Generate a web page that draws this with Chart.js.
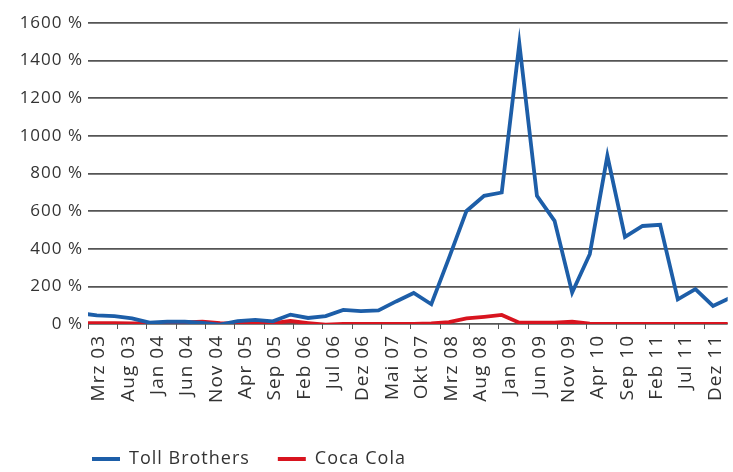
<!DOCTYPE html>
<html>
<head>
<meta charset="utf-8">
<title>Toll Brothers vs Coca Cola</title>
<script src="https://cdn.jsdelivr.net/npm/chart.js"></script>
<style>
  html, body { margin: 0; padding: 0; background: #fff; }
  #wrap { width: 733px; height: 472px; }
</style>
</head>
<body>
<div id="wrap"><canvas id="grafico"></canvas></div>
<script>
const monate = ['Jan', 'Feb', 'Mrz', 'Apr', 'Mai', 'Jun', 'Jul', 'Aug', 'Sep', 'Okt', 'Nov', 'Dez'];

// Quartalswerte (in %)
const quartale = [
  'Jan 03', 'Apr 03', 'Jul 03', 'Okt 03', 'Jan 04', 'Apr 04', 'Jul 04', 'Okt 04',
  'Jan 05', 'Apr 05', 'Jul 05', 'Okt 05', 'Jan 06', 'Apr 06', 'Jul 06', 'Okt 06',
  'Jan 07', 'Apr 07', 'Jul 07', 'Okt 07', 'Jan 08', 'Apr 08', 'Jul 08', 'Okt 08',
  'Jan 09', 'Apr 09', 'Jul 09', 'Okt 09', 'Jan 10', 'Apr 10', 'Jul 10', 'Okt 10',
  'Jan 11', 'Apr 11', 'Jul 11', 'Okt 11', 'Jan 12', 'Apr 12'
];
const tollBrothers = [
  58, 46, 42, 30, 7, 12, 12, 6,
  -3, 15, 22, 14, 50, 32, 42, 75,
  68, 72, 120, 165, 105, 350, 601, 681,
  699, 1490, 681, 548, 167, 371, 894, 463,
  521, 527, 131, 185, 96, 140
];
const cocaCola = [
  5, 5, 5, 3, 3, 3, 8, 12,
  5, 3, 5, 5, 16, 5, -4, 0,
  0, 0, 0, 0, 3, 10, 30, 38,
  48, 7, 7, 7, 12, 2, 0, 0,
  0, 0, 0, 0, 0, 0
];

// Achsenbeschriftung (alle 5 Monate)
const achsenLabels = [
  'Mrz 03', 'Aug 03', 'Jan 04', 'Jun 04', 'Nov 04', 'Apr 05', 'Sep 05', 'Feb 06',
  'Jul 06', 'Dez 06', 'Mai 07', 'Okt 07', 'Mrz 08', 'Aug 08', 'Jan 09', 'Jun 09',
  'Nov 09', 'Apr 10', 'Sep 10', 'Feb 11', 'Jul 11', 'Dez 11'
];
const yMin = 0;
const yMax = 1600;
const yStep = 200;

// Monate seit Mrz 03
function monatsIndex(label) {
  const [m, j] = label.split(' ');
  return (Number(j) - 3) * 12 + monate.indexOf(m) - 2;
}

const punkte = werte => quartale.map((q, i) => ({ x: monatsIndex(q) + 0.5, y: werte[i] }));

const schrift = { family: "'Open Sans', sans-serif", size: 18 };

// etwas Laufweite wie im Original
const sperrung = {
  id: 'sperrung',
  beforeLayout(chart) { chart.ctx.letterSpacing = '1px'; },
  beforeDraw(chart) { chart.ctx.letterSpacing = '1px'; }
};

const legendeVerschieben = {
  id: 'legendeVerschieben',
  afterLayout(chart) {
    chart.legend.left += 56;
    chart.legend.top += 6;
  }
};

new Chart(document.getElementById('grafico'), {
  type: 'line',
  data: {
    datasets: [{
      label: 'Toll Brothers',
      data: punkte(tollBrothers),
      borderColor: '#1d5ea8',
      backgroundColor: '#1d5ea8',
      borderWidth: 3.8,
      pointRadius: 0,
      tension: 0,
      clip: 0
    }, {
      label: 'Coca Cola',
      data: punkte(cocaCola),
      borderColor: '#d8141f',
      backgroundColor: '#d8141f',
      borderWidth: 3.8,
      pointRadius: 0,
      tension: 0,
      clip: 0
    }]
  },
  options: {
    responsive: true,
    maintainAspectRatio: false,
    animation: false,
    layout: { padding: { left: 8, top: 23, right: 0, bottom: 0 } },
    plugins: {
      tooltip: { enabled: false },
      legend: {
        position: 'bottom',
        align: 'start',
        labels: {
          color: '#333',
          font: schrift,
          boxWidth: 28,
          boxHeight: 4,
          padding: 28,
          generateLabels: chart =>
            Chart.defaults.plugins.legend.labels.generateLabels(chart).map(l => ({ ...l, lineWidth: 0 }))
        }
      }
    },
    scales: {
      x: {
        type: 'linear',
        min: 0,
        max: 109,
        afterBuildTicks: axis => {
          axis.ticks = achsenLabels.map(l => ({ value: monatsIndex(l) }));
        },
        afterFit: axis => { axis.height = 92; },
        ticks: {
          autoSkip: false,
          minRotation: 90,
          maxRotation: 90,
          labelOffset: 11,
          padding: 6,
          color: '#333',
          font: { family: "'Open Sans', sans-serif", size: 19 },
          callback: v => achsenLabels.find(l => monatsIndex(l) === v)
        },
        grid: {
          drawOnChartArea: false,
          drawTicks: true,
          tickLength: 5,
          color: '#555',
          lineWidth: 1
        },
        border: { display: false }
      },
      y: {
        min: yMin,
        max: yMax,
        afterFit: axis => { axis.width = 80; },
        ticks: {
          stepSize: yStep,
          padding: 5,
          color: '#333',
          font: { family: "'Open Sans', sans-serif", size: 17 },
          callback: v => v + ' %'
        },
        grid: {
          drawTicks: false,
          color: '#555',
          lineWidth: 1.7
        },
        border: { display: false }
      }
    }
  },
  plugins: [sperrung, legendeVerschieben]
});
</script>
</body>
</html>
